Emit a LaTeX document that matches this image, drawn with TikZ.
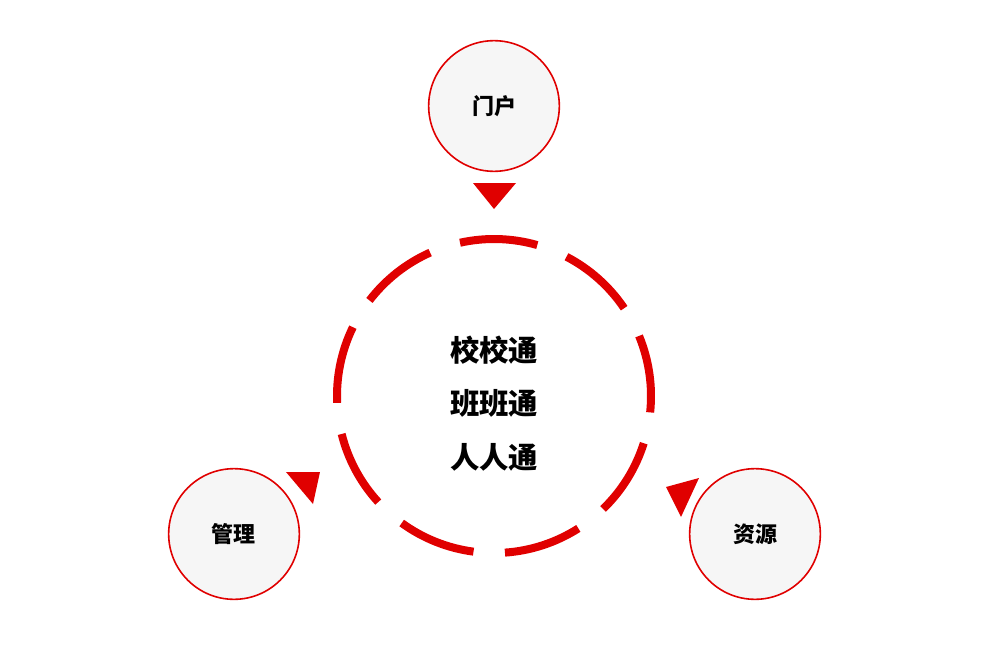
\documentclass[tikz,border=0pt]{standalone}
\usepackage{fontspec}
\newfontfamily\cjk{Noto Sans CJK SC}
\usetikzlibrary{positioning}
\definecolor{hubred}{HTML}{E00000}
\definecolor{bubblegray}{HTML}{F6F6F6}
\tikzset{
  bubble/.style={circle, draw=hubred, line width=1.2pt, fill=bubblegray, minimum size=98pt, inner sep=0pt,
    font=\cjk\bfseries\fontsize{16.5}{20}\selectfont},
  hubtext/.style={align=center, font=\cjk\bfseries\fontsize{22}{40}\selectfont},
  ringarc/.style={draw=hubred, line width=6pt},
  pointer/.style={fill=hubred}
}

\begin{document}
\begin{tikzpicture}[x=0.75pt, y=0.75pt]
  \useasboundingbox (-494,-251) rectangle (511,396);
  % dashed ring round the centre
  \foreach \s in {74,34,...,-246}
    \draw[ringarc] (\s:157) arc[start angle=\s, end angle=\s+28.5, radius=157];
  \node[hubtext] (hub) at (0,-7.5) {校校通\\班班通\\人人通};
  % outer bubbles
  \node[bubble] (portal) at (0,290) {门户};
  \node[bubble] (manage) at (-260,-138) {管理};
  \node[bubble] (source) at (261,-138) {资源};
  % pointers
  \fill[pointer] (-21,213) -- (22,213) -- (0,187) -- cycle;
  \fill[pointer] (-208,-76) -- (-174,-76) -- (-181,-108) -- cycle;
  \fill[pointer] (172,-91) -- (205,-82) -- (187,-121) -- cycle;
\end{tikzpicture}
\end{document}
